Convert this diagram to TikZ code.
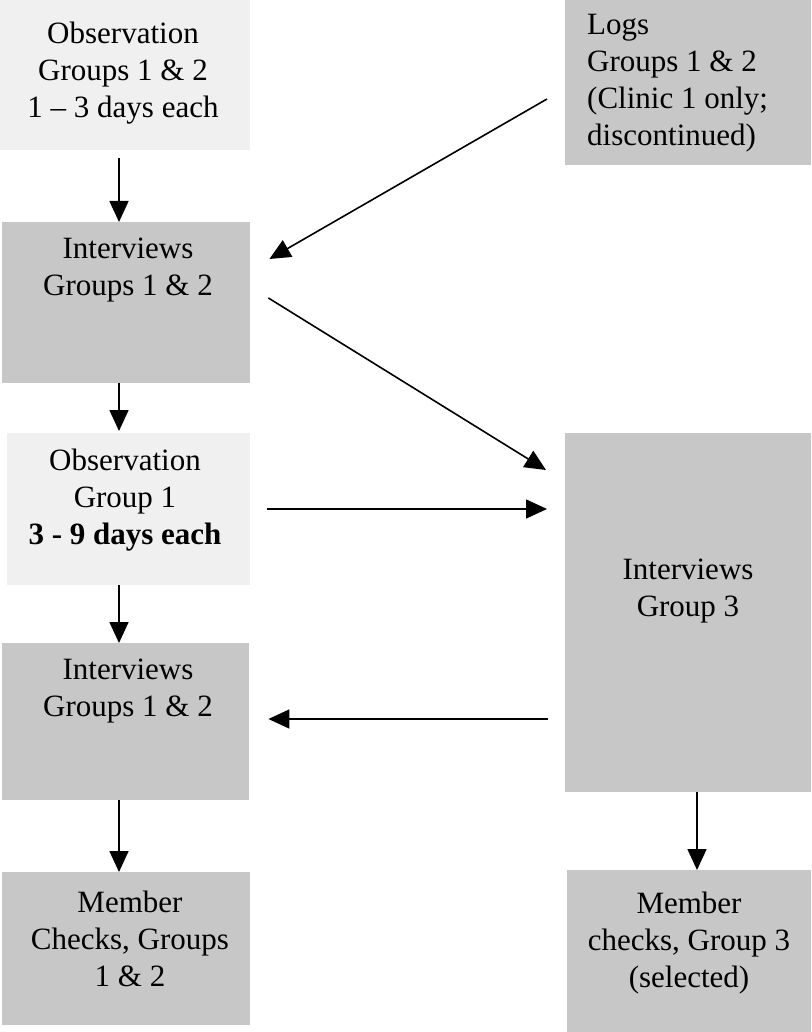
\documentclass[tikz,border=0pt]{standalone}
\usepackage{fontspec}
\setmainfont{Liberation Serif}
\usetikzlibrary{arrows.meta,calc}
\tikzset{
  medbox/.style={fill=black!22, draw=none, inner sep=0pt, anchor=north west},
  lightbox/.style={fill=black!6, draw=none, inner sep=0pt, anchor=north west},
  lbl/.style={inner sep=0pt, anchor=north, align=center, font=\fontsize{31}{37}\selectfont},
  lbll/.style={inner sep=0pt, anchor=north west, align=left, font=\fontsize{31}{37}\selectfont},
  arr/.style={line width=1.6pt, -{Triangle[length=21pt,width=19pt]}}
}
\begin{document}
\begin{tikzpicture}[x=1pt,y=-1pt]
\useasboundingbox (0,0) rectangle (811,1032);
% boxes
\node[lightbox, minimum width=250pt, minimum height=150pt] (obs1) at (0,0) {};
\node[medbox, minimum width=246pt, minimum height=165pt] (logs) at (565,0) {};
\node[medbox, minimum width=248pt, minimum height=161pt] (int1) at (2,222) {};
\node[lightbox, minimum width=243pt, minimum height=152pt] (obs2) at (7,433) {};
\node[medbox, minimum width=246pt, minimum height=359pt] (int3) at (565,433) {};
\node[medbox, minimum width=247pt, minimum height=157pt] (int2) at (2,643) {};
\node[medbox, minimum width=248pt, minimum height=153pt] (mc1) at (2,872) {};
\node[medbox, minimum width=244pt, minimum height=162pt] (mc3) at (567,870) {};
% labels
\node[lbl] (tobs1) at (123,22) {Observation\\Groups 1 \& 2\\1 -- 3 days each};
\node[lbll] (tlogs) at (587,14) {Logs\\Groups 1 \& 2\\(Clinic 1 only;\\discontinued)};
\node[lbl] (tint1) at (128,238) {Interviews\\Groups 1 \& 2};
\node[lbl] (tobs2) at (125,449) {Observation\\Group 1\\\textbf{3 - 9 days each}};
\node[lbl] (tint3) at (688,559) {Interviews\\Group 3};
\node[lbl] (tint2) at (128,659) {Interviews\\Groups 1 \& 2};
\node[lbl] (tmc1) at (130,891) {Member\\Checks, Groups\\1 \& 2};
\node[lbl] (tmc3) at (689,892) {Member\\checks, Group 3\\(selected)};
% connectors
\draw[arr] ($(obs1.south west)+(119,8)$) -- (int1.north west -| 119,0);
\draw[arr] (int1.south west -| 119,0) -- ($(obs2.north west)+(112,-2)$);
\draw[arr] (obs2.south west -| 119,0) -- (int2.north west -| 119,0);
\draw[arr] (int2.south west -| 119,0) -- (mc1.north west -| 119,0);
\draw[arr] (int3.south west -| 697,0) -- ($(mc3.north west)+(130,0)$);
\draw[arr] ($(logs.north west)+(-18,99)$) -- ($(int1.north east)+(19,37)$);
\draw[arr] ($(int1.north east)+(18,76)$) -- ($(int3.north west)+(-19,37)$);
\draw[arr] ($(obs2.north east)+(17,76)$) -- ($(int3.north west)+(-18,76)$);
\draw[arr] ($(int3.north west)+(-17,286)$) -- ($(int2.north east)+(19,76)$);
\end{tikzpicture}
\end{document}
